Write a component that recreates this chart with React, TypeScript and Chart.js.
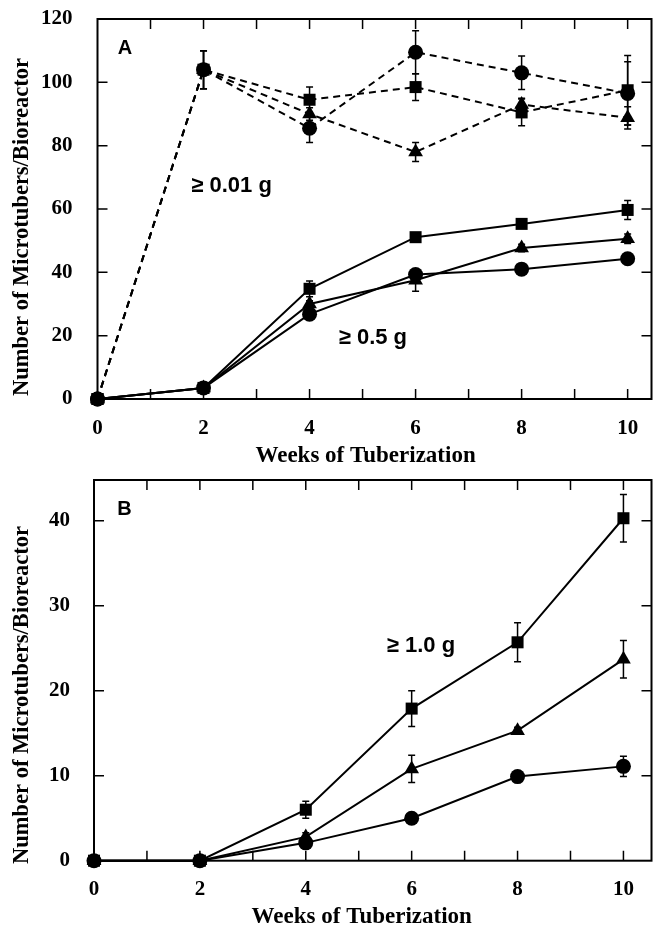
import React, { useEffect, useRef } from 'react';
import { Chart, registerables } from 'chart.js';

Chart.register(...registerables);

// ---------- data ----------
const WEEKS = [0, 2, 4, 6, 8, 10];
const X_TITLE = 'Weeks of Tuberization';
const Y_TITLE = 'Number of Microtubers/Bioreactor';

// Panel A, >= 0.01 g (dashed)
const A_SMALL_SQUARE = [0, 104, 94.5, 98.5, 90.5, 97.5];
const A_SMALL_SQUARE_ERR = [0, 6, 4, 4.2, 4.2, 11];
const A_SMALL_TRIANGLE = [0, 104, 90, 78, 93, 88.8];
const A_SMALL_TRIANGLE_ERR = [0, 6, 2, 3, 2, 3.5];
const A_SMALL_CIRCLE = [0, 104, 85.5, 109.5, 103, 96.5];
const A_SMALL_CIRCLE_ERR = [0, 6, 4.5, 6.8, 5.3, 10];

// Panel A, >= 0.5 g (solid)
const A_LARGE_SQUARE = [0, 3.5, 34.8, 51.1, 55.3, 59.7];
const A_LARGE_SQUARE_ERR = [0, 0, 2.5, 0.8, 1, 3];
const A_LARGE_TRIANGLE = [0, 3.5, 30, 37.5, 47.7, 50.6];
const A_LARGE_TRIANGLE_ERR = [0, 0, 1, 3.5, 1.2, 1.5];
const A_LARGE_CIRCLE = [0, 3.5, 26.8, 39.3, 41, 44.3];
const A_LARGE_CIRCLE_ERR = [0, 0, 1, 1.5, 0.5, 0.5];

// Panel B, >= 1.0 g (solid)
const B_SQUARE = [0, 0, 6, 17.9, 25.7, 40.3];
const B_SQUARE_ERR = [0, 0, 1, 2.1, 2.3, 2.8];
const B_TRIANGLE = [0, 0, 2.8, 10.8, 15.3, 23.7];
const B_TRIANGLE_ERR = [0, 0, 0.5, 1.6, 0.4, 2.2];
const B_CIRCLE = [0, 0, 2.1, 5, 9.9, 11.1];
const B_CIRCLE_ERR = [0, 0, 0, 0, 0.5, 1.2];

const A_NOTES = [
  { text: 'A', x: 0.38, y: 110.6, size: 20 },
  { text: '\u2265 0.01 g', x: 1.77, y: 67.3, size: 22 },
  { text: '\u2265 0.5 g', x: 4.55, y: 19.3, size: 22 },
];
const B_NOTES = [
  { text: 'B', x: 0.44, y: 41.3, size: 20 },
  { text: '\u2265 1.0 g', x: 5.53, y: 25.3, size: 22 },
];

// ---------- styling helpers ----------
const SERIF = "'Liberation Serif', 'Times New Roman', serif";
const SANS = "'Liberation Sans', Arial, sans-serif";

const MARKER = {
  square: { style: 'rect', radius: 8.5 },
  triangle: { style: 'triangle', radius: 8.5 },
  circle: { style: 'circle', radius: 7.5 },
};

function series(values, errors, marker, dashed) {
  const m = MARKER[marker];
  return {
    data: WEEKS.map((w, i) => ({ x: w, y: values[i] })),
    errors,
    borderColor: '#000',
    backgroundColor: '#000',
    borderWidth: 2,
    borderDash: dashed ? [7, 5] : [],
    pointStyle: m.style,
    pointRadius: m.radius,
    pointBackgroundColor: '#000',
    pointBorderColor: '#000',
    pointBorderWidth: 0,
    tension: 0,
    fill: false,
    clip: false,
  };
}

const decorPlugin = {
  id: 'decor',
  beforeDatasetsDraw(chart) {
    const { ctx, scales } = chart;
    const xs = scales.x;
    const ys = scales.y;
    ctx.save();
    ctx.strokeStyle = '#000';
    ctx.lineWidth = 1.5;
    chart.data.datasets.forEach((ds: any) => {
      const errs = ds.errors || [];
      ds.data.forEach((p, i) => {
        const e = errs[i];
        if (!e) return;
        const x = xs.getPixelForValue(p.x);
        const y1 = ys.getPixelForValue(p.y + e);
        const y2 = ys.getPixelForValue(p.y - e);
        ctx.beginPath();
        ctx.moveTo(x, y1);
        ctx.lineTo(x, y2);
        ctx.moveTo(x - 3.5, y1);
        ctx.lineTo(x + 3.5, y1);
        ctx.moveTo(x - 3.5, y2);
        ctx.lineTo(x + 3.5, y2);
        ctx.stroke();
      });
    });
    ctx.restore();
  },
  afterDraw(chart) {
    const { ctx, chartArea, scales } = chart;
    const { left, right, top, bottom } = chartArea;
    const xs = scales.x;
    const ys = scales.y;
    const opts = chart.options.plugins.decor || {};
    ctx.save();
    ctx.strokeStyle = '#000';
    ctx.lineWidth = 2;
    ctx.strokeRect(left, top, right - left, bottom - top);
    ctx.lineWidth = 1.5;
    const TL = 10;
    ctx.beginPath();
    xs.ticks.forEach((t) => {
      const x = xs.getPixelForValue(t.value);
      if (x <= left + 1 || x >= right - 1) return;
      ctx.moveTo(x, bottom);
      ctx.lineTo(x, bottom - TL);
      ctx.moveTo(x, top);
      ctx.lineTo(x, top + TL);
    });
    ys.ticks.forEach((t) => {
      const y = ys.getPixelForValue(t.value);
      if (y >= bottom - 1 || y <= top + 1) return;
      ctx.moveTo(left, y);
      ctx.lineTo(left + TL, y);
      ctx.moveTo(right, y);
      ctx.lineTo(right - TL, y);
    });
    ctx.stroke();
    ctx.fillStyle = '#000';
    ctx.textBaseline = 'middle';
    ctx.textAlign = 'left';
    (opts.notes || []).forEach((n) => {
      ctx.font = `bold ${n.size}px ${SANS}`;
      ctx.fillText(n.text, xs.getPixelForValue(n.x), ys.getPixelForValue(n.y));
    });
    // x-axis title, centred on the labelled week range
    ctx.font = `bold 23px ${SERIF}`;
    ctx.textAlign = 'center';
    ctx.textBaseline = 'alphabetic';
    const cx = (xs.getPixelForValue(0) + xs.getPixelForValue(10)) / 2 + 3;
    ctx.fillText(opts.xTitle, cx, opts.xTitleBaseline);
    // y-axis title
    ctx.save();
    ctx.translate(opts.yTitleX, opts.yTitleCenter);
    ctx.rotate(-Math.PI / 2);
    ctx.font = `bold 22.5px ${SERIF}`;
    ctx.textAlign = 'center';
    ctx.textBaseline = 'middle';
    ctx.fillText(opts.yTitle, 0, 0);
    ctx.restore();
    ctx.restore();
  },
};

function buildConfig(spec) {
  const tickFont = { family: SERIF, size: 21, weight: 'bold' };
  return {
    type: 'line',
    data: { datasets: spec.datasets },
    options: {
      animation: false,
      responsive: false,
      devicePixelRatio: 1,
      layout: { padding: { left: 0, top: spec.padTop, right: spec.padRight, bottom: 0 } },
      plugins: {
        legend: { display: false },
        tooltip: { enabled: false },
        decor: {
          notes: spec.notes,
          xTitle: X_TITLE,
          xTitleBaseline: spec.xTitleBaseline,
          yTitle: Y_TITLE,
          yTitleX: 22.5,
          yTitleCenter: spec.yTitleCenter,
        },
      },
      scales: {
        x: {
          type: 'linear',
          min: 0,
          max: spec.xMax,
          grid: { display: false, drawTicks: false },
          border: { display: false },
          ticks: {
            stepSize: 1,
            includeBounds: false,
            autoSkip: false,
            maxRotation: 0,
            padding: spec.xTickPad,
            color: '#000',
            font: tickFont,
            callback: (v) => (v % 2 === 0 ? String(v) : ''),
          },
          title: { display: false },
          afterFit: (s) => {
            s.height = spec.xAxisHeight;
            s.paddingLeft = 0;
            s.paddingRight = 0;
          },
        },
        y: {
          type: 'linear',
          min: 0,
          max: spec.yMax,
          grid: { display: false, drawTicks: false },
          border: { display: false },
          ticks: {
            stepSize: spec.yStep,
            includeBounds: false,
            padding: spec.yTickPad,
            color: '#000',
            font: tickFont,
          },
          title: { display: false },
          afterFit: (s) => {
            s.width = spec.yAxisWidth;
            s.paddingTop = 0;
            s.paddingBottom = 0;
          },
        },
      },
    },
    plugins: [decorPlugin],
  };
}

function Panel({ spec, width, height }) {
  const ref = useRef(null);
  useEffect(() => {
    const chart = new Chart(ref.current, buildConfig(spec) as any);
    return () => chart.destroy();
  }, []);
  return (
    <canvas
      ref={ref}
      width={width}
      height={height}
      style={{ display: 'block', width, height }}
    />
  );
}

const SPEC_A = {
  datasets: [
    series(A_SMALL_SQUARE, A_SMALL_SQUARE_ERR, 'square', true),
    series(A_SMALL_TRIANGLE, A_SMALL_TRIANGLE_ERR, 'triangle', true),
    series(A_SMALL_CIRCLE, A_SMALL_CIRCLE_ERR, 'circle', true),
    series(A_LARGE_SQUARE, A_LARGE_SQUARE_ERR, 'square', false),
    series(A_LARGE_TRIANGLE, A_LARGE_TRIANGLE_ERR, 'triangle', false),
    series(A_LARGE_CIRCLE, A_LARGE_CIRCLE_ERR, 'circle', false),
  ],
  notes: A_NOTES,
  xMax: 10.45,
  yMax: 120,
  yStep: 20,
  padTop: 19,
  padRight: 6,
  xAxisHeight: 71,
  yAxisWidth: 97.5,
  xTickPad: 17,
  xTitleBaseline: 462,
  yTickPad: 25,
  yTitleCenter: 227,
};

const SPEC_B = {
  datasets: [
    series(B_SQUARE, B_SQUARE_ERR, 'square', false),
    series(B_TRIANGLE, B_TRIANGLE_ERR, 'triangle', false),
    series(B_CIRCLE, B_CIRCLE_ERR, 'circle', false),
  ],
  notes: B_NOTES,
  xMax: 10.53,
  yMax: 44.8,
  yStep: 10,
  padTop: 10,
  padRight: 6,
  xAxisHeight: 68.3,
  yAxisWidth: 94,
  xTickPad: 16,
  xTitleBaseline: 453,
  yTickPad: 24,
  yTitleCenter: 225,
};

export default function App() {
  return (
    <div
      style={{
        position: 'absolute',
        left: 0,
        top: 0,
        width: 653,
        height: 929,
        overflow: 'hidden',
        background: '#fff',
      }}
    >
      <Panel spec={SPEC_A} width={660} height={470} />
      <Panel spec={SPEC_B} width={660} height={459} />
    </div>
  );
}
